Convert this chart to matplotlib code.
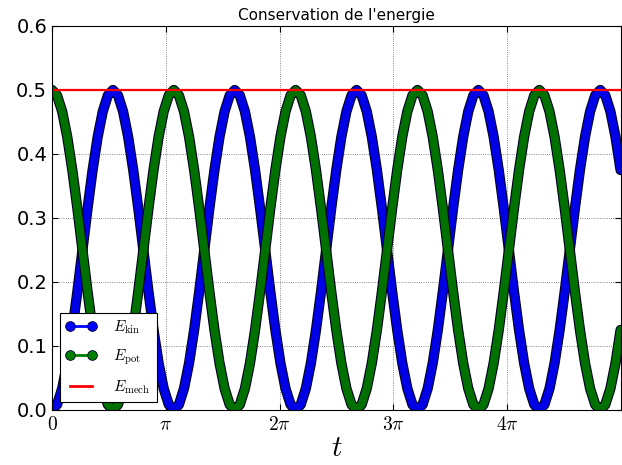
import matplotlib
matplotlib.use("Agg")
import matplotlib.pyplot as plt
import matplotlib.patheffects as pe
from matplotlib.lines import Line2D
import numpy as np

plt.rcParams['mathtext.fontset'] = 'cm'

# sampling step of the simulation (24 samples per half period)
dt = 0.14014

e_kin = [
    0.0, 0.0085, 0.0335, 0.0732, 0.125, 0.1853, 0.25, 0.3147, 0.375, 0.4268, 0.4665, 0.4915,
    0.5, 0.4915, 0.4665, 0.4268, 0.375, 0.3147, 0.25, 0.1853, 0.125, 0.0732, 0.0335, 0.0085,
    0.0, 0.0085, 0.0335, 0.0732, 0.125, 0.1853, 0.25, 0.3147, 0.375, 0.4268, 0.4665, 0.4915,
    0.5, 0.4915, 0.4665, 0.4268, 0.375, 0.3147, 0.25, 0.1853, 0.125, 0.0732, 0.0335, 0.0085,
    0.0, 0.0085, 0.0335, 0.0732, 0.125, 0.1853, 0.25, 0.3147, 0.375, 0.4268, 0.4665, 0.4915,
    0.5, 0.4915, 0.4665, 0.4268, 0.375, 0.3147, 0.25, 0.1853, 0.125, 0.0732, 0.0335, 0.0085,
    0.0, 0.0085, 0.0335, 0.0732, 0.125, 0.1853, 0.25, 0.3147, 0.375, 0.4268, 0.4665, 0.4915,
    0.5, 0.4915, 0.4665, 0.4268, 0.375, 0.3147, 0.25, 0.1853, 0.125, 0.0732, 0.0335, 0.0085,
    0.0, 0.0085, 0.0335, 0.0732, 0.125, 0.1853, 0.25, 0.3147, 0.375, 0.4268, 0.4665, 0.4915,
    0.5, 0.4915, 0.4665, 0.4268, 0.375,
]
e_pot = [
    0.5, 0.4915, 0.4665, 0.4268, 0.375, 0.3147, 0.25, 0.1853, 0.125, 0.0732, 0.0335, 0.0085,
    0.0, 0.0085, 0.0335, 0.0732, 0.125, 0.1853, 0.25, 0.3147, 0.375, 0.4268, 0.4665, 0.4915,
    0.5, 0.4915, 0.4665, 0.4268, 0.375, 0.3147, 0.25, 0.1853, 0.125, 0.0732, 0.0335, 0.0085,
    0.0, 0.0085, 0.0335, 0.0732, 0.125, 0.1853, 0.25, 0.3147, 0.375, 0.4268, 0.4665, 0.4915,
    0.5, 0.4915, 0.4665, 0.4268, 0.375, 0.3147, 0.25, 0.1853, 0.125, 0.0732, 0.0335, 0.0085,
    0.0, 0.0085, 0.0335, 0.0732, 0.125, 0.1853, 0.25, 0.3147, 0.375, 0.4268, 0.4665, 0.4915,
    0.5, 0.4915, 0.4665, 0.4268, 0.375, 0.3147, 0.25, 0.1853, 0.125, 0.0732, 0.0335, 0.0085,
    0.0, 0.0085, 0.0335, 0.0732, 0.125, 0.1853, 0.25, 0.3147, 0.375, 0.4268, 0.4665, 0.4915,
    0.5, 0.4915, 0.4665, 0.4268, 0.375, 0.3147, 0.25, 0.1853, 0.125, 0.0732, 0.0335, 0.0085,
    0.0, 0.0085, 0.0335, 0.0732, 0.125,
]
e_mech = [0.5] * len(e_kin)

labels = [r'$E_{\rm kin}$', r'$E_{\rm pot}$', r'$E_{\rm mech}$']
xtick_pos = [0, np.pi, 2 * np.pi, 3 * np.pi, 4 * np.pi]
xtick_labels = [r'$0$', r'$\pi$', r'$2\pi$', r'$3\pi$', r'$4\pi$']
yticks = [0.0, 0.1, 0.2, 0.3, 0.4, 0.5, 0.6]

t = np.arange(len(e_kin)) * dt

fig = plt.figure(figsize=(6.22, 4.65), dpi=100)
ax = fig.add_axes([0.0836, 0.1183, 0.9148, 0.8258])

band = [pe.Stroke(linewidth=7.4, foreground='#000020'), pe.Normal()]
ax.plot(t, e_kin, color='#0000e6', lw=5.8, solid_capstyle='round', path_effects=band)
ax.plot(t, e_pot, color='#007000', lw=5.8, solid_capstyle='round', path_effects=band)
ax.plot(t, e_mech, color='r', lw=1.6)

ax.set_xlim(0, 5 * np.pi)
ax.set_ylim(0, 0.6)
ax.set_xticks(xtick_pos)
ax.set_xticklabels(xtick_labels, fontsize=14)
ax.set_yticks(yticks)
ax.set_yticklabels(['%.1f' % v for v in yticks], fontsize=14)
ax.tick_params(direction='in', top=True, right=True, length=4)
ax.grid(True, linestyle=':', color='0.4', lw=0.6)
ax.set_xlabel(r'$t$', fontsize=21, labelpad=0)
ax.set_title("Conservation de l'energie", fontsize=11, pad=4)

handles = [
    Line2D([], [], color='b', lw=2, marker='o', ms=7, mec='#000030', mew=0.6),
    Line2D([], [], color='g', lw=2, marker='o', ms=7, mec='#000030', mew=0.6),
    Line2D([], [], color='r', lw=2),
]
leg = ax.legend(handles, labels, loc='lower left', numpoints=2, fontsize=11,
                fancybox=False, framealpha=1, edgecolor='k', labelspacing=0.75,
                handlelength=2.0, handletextpad=1.1, borderaxespad=0.5)
leg.get_frame().set_linewidth(0.8)

fig.savefig('out.png', dpi=100)
